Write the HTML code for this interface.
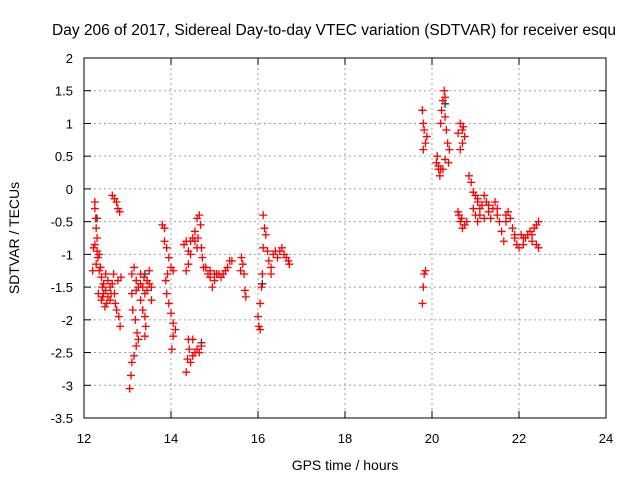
<!DOCTYPE html>
<html><head><meta charset="utf-8"><style>
body{margin:0;background:#fff;}
svg{display:block;font-family:"Liberation Sans",sans-serif;}
</style></head><body>
<svg id="chart" width="640" height="480">
<text x="52" y="35" font-size="15.5" fill="#000">Day 206 of 2017, Sidereal Day-to-day VTEC variation (SDTVAR) for receiver esqu</text>
<text x="345" y="470" font-size="14" text-anchor="middle">GPS time / hours</text>
<text transform="translate(19,238) rotate(-90)" font-size="14" text-anchor="middle">SDTVAR / TECUs</text>
<g id="grid"></g><g id="ticks"></g><g id="marks"></g>
<rect x="84" y="58" width="522" height="360" fill="none" stroke="#000"/>
</svg>
<script>
const xTicks=[12,14,16,18,20,22,24];
const yTicks=[2,1.5,1,0.5,0,-0.5,-1,-1.5,-2,-2.5,-3,-3.5];
const xTickLabels=["12","14","16","18","20","22","24"];
const yTickLabels=["2","1.5","1","0.5","0","-0.5","-1","-1.5","-2","-2.5","-3","-3.5"];
const hours=[12.25,12.25,12.27,12.28,12.3,12.25,12.3,12.32,12.28,12.35,12.38,12.4,12.42,12.45,12.4,12.48,12.5,12.55,12.6,12.65,12.7,12.72,12.75,12.8,12.83,12.6,12.55,12.5,12.35,12.45,12.52,12.68,12.78,12.85,12.2,12.22,12.33,12.43,12.62,
12.65,12.7,12.75,12.78,12.82,
13.1,13.15,13.2,13.1,13.12,13.18,13.22,13.2,13.15,13.1,13.08,13.05,13.25,13.3,13.35,13.4,13.45,13.5,13.3,13.35,13.4,13.42,13.4,13.55,13.55,13.25,13.2,13.3,13.45,13.5,13.38,
13.8,13.85,13.85,13.9,13.95,14.0,14.05,13.88,13.9,13.95,14.0,14.05,14.05,14.02,14.1,13.92,
14.3,14.35,14.4,14.45,14.4,14.35,14.5,14.55,14.6,14.65,14.68,14.62,14.7,14.72,14.75,14.6,14.45,14.55,
14.4,14.42,14.38,14.35,14.45,14.5,14.55,14.6,14.65,14.7,14.5,
14.8,14.85,14.9,14.95,15.0,15.05,15.1,15.15,15.2,15.25,15.3,15.35,15.4,14.9,15.0,
15.62,15.65,15.6,15.68,15.7,15.72,
16.0,16.02,16.05,16.05,16.08,16.1,16.12,16.15,16.12,16.18,16.22,16.25,16.3,16.3,16.35,16.4,16.45,16.5,16.55,16.6,16.65,16.7,16.72,
19.78,19.8,19.82,19.85,19.78,19.8,19.82,19.85,19.8,19.88,
20.1,20.12,20.15,20.18,20.2,20.2,20.22,20.25,20.28,20.3,20.3,20.33,20.36,20.4,20.38,20.25,20.3,20.15,
20.6,20.65,20.7,20.75,20.7,20.65,20.62,20.65,20.7,20.75,20.6,20.8,20.68,20.72,
20.85,20.9,20.95,21.0,21.05,20.95,21.0,21.05,21.1,21.15,21.2,21.25,21.3,21.35,21.4,21.45,21.5,21.55,21.6,21.65,21.7,21.75,21.8,21.85,21.9,21.95,22.0,22.05,22.1,22.15,22.2,22.25,22.3,22.35,22.4,22.45,22.4,22.45,21.1,21.3,21.5,21.7,21.9,22.1,22.3,21.05,21.2];
const vtec=[-0.2,-0.3,-0.45,-0.6,-0.75,-0.85,-0.95,-1.05,-1.15,-1.0,-1.2,-1.35,-1.5,-1.6,-1.7,-1.8,-1.55,-1.65,-1.5,-1.45,-1.6,-1.75,-1.85,-1.95,-2.1,-1.7,-1.4,-1.3,-1.25,-1.45,-1.75,-1.3,-1.4,-1.35,-1.25,-0.9,-1.6,-1.65,-1.6,
-0.1,-0.15,-0.2,-0.3,-0.35,
-1.3,-1.2,-1.4,-1.6,-1.85,-2.0,-2.2,-2.4,-2.55,-2.65,-2.85,-3.05,-1.5,-1.3,-1.5,-1.6,-1.4,-1.25,-1.7,-1.85,-1.95,-2.1,-2.25,-1.5,-1.7,-2.3,-1.55,-1.45,-1.55,-1.45,-1.35,
-0.55,-0.6,-0.8,-0.9,-1.05,-1.2,-1.25,-1.4,-1.6,-1.75,-1.9,-2.05,-2.25,-2.45,-2.15,-1.3,
-0.85,-0.8,-0.95,-1.0,-1.15,-1.25,-0.75,-0.65,-0.45,-0.4,-0.55,-0.75,-0.9,-1.05,-1.2,-0.9,-0.8,-0.8,
-2.3,-2.45,-2.6,-2.8,-2.65,-2.55,-2.5,-2.45,-2.5,-2.4,-2.3,
-1.2,-1.3,-1.35,-1.5,-1.4,-1.3,-1.3,-1.35,-1.3,-1.25,-1.2,-1.1,-1.1,-1.25,-1.3,
-1.05,-1.15,-1.25,-1.3,-1.55,-1.65,
-1.95,-2.1,-2.15,-1.75,-1.5,-1.3,-0.9,-0.6,-0.4,-0.7,-0.95,-1.1,-1.3,-1.2,-1.0,-0.95,-1.05,-0.95,-0.9,-1.0,-1.05,-1.1,-1.15,
-1.75,-1.5,-1.3,-1.25,1.2,1.0,0.9,0.7,0.6,0.8,
0.4,0.5,0.3,0.2,0.3,1.0,1.2,1.35,1.5,1.4,1.1,0.9,0.7,0.6,0.4,0.3,0.45,0.35,
0.85,1.0,0.9,0.8,0.7,0.6,-0.4,-0.5,-0.6,-0.55,-0.35,-0.5,-0.45,0.95,
0.2,0.1,-0.05,-0.1,-0.15,-0.3,-0.4,-0.5,-0.4,-0.25,-0.1,-0.2,-0.35,-0.45,-0.3,-0.2,-0.4,-0.5,-0.65,-0.8,-0.5,-0.35,-0.45,-0.6,-0.75,-0.85,-0.9,-0.7,-0.85,-0.75,-0.7,-0.65,-0.8,-0.6,-0.55,-0.5,-0.85,-0.9,-0.3,-0.25,-0.3,-0.4,-0.7,-0.75,-0.7,-0.2,-0.45];
const grayHours=[12.3,19.78,16.1,14.7,13.4,20.3];
const grayVtec=[-0.45,1.2,-1.45,-2.35,-1.3,1.3];
const NS="http://www.w3.org/2000/svg";
function X(h){return 84+(h-12)/12*522;}
function Y(v){return 58+(2-v)/5.5*360;}
function el(t,a,p){const e=document.createElementNS(NS,t);for(const k in a)e.setAttribute(k,a[k]);p.appendChild(e);return e;}
const grid=document.getElementById('grid'),ticks=document.getElementById('ticks'),marks=document.getElementById('marks');
xTicks.forEach((t,i)=>{const x=X(t);
 if(i>0&&i<xTicks.length-1){const g=el('line',{x1:x,x2:x,y1:58,y2:418,stroke:'#a0a0a0','stroke-dasharray':'2,3'},grid);
 
 }
 el('line',{x1:x,x2:x,y1:418,y2:411,stroke:'#000'},ticks);el('line',{x1:x,x2:x,y1:58,y2:65,stroke:'#000'},ticks);
 const l=el('text',{x:x,y:443,'font-size':13,'text-anchor':'middle'},ticks);l.textContent=xTickLabels[i];
 
 });
yTicks.forEach((t,i)=>{const y=Y(t);
 if(i>0&&i<yTicks.length-1){const g=el('line',{x1:84,x2:606,y1:y,y2:y,stroke:'#a0a0a0','stroke-dasharray':'2,3'},grid);
 
 }
 el('line',{x1:84,x2:91,y1:y,y2:y,stroke:'#000'},ticks);el('line',{x1:606,x2:599,y1:y,y2:y,stroke:'#000'},ticks);
 const l=el('text',{x:73,y:y+5,'font-size':13,'text-anchor':'end'},ticks);l.textContent=yTickLabels[i];
 
 });
function plus(h,v,c,name){const x=X(h),y=Y(v);
 const p=el('path',{d:`M${x-4},${y}H${x+4}M${x},${y-4}V${y+4}`,stroke:c,'stroke-width':1.3,fill:'none'},marks);
 
 }
grayHours.forEach((h,i)=>plus(h,grayVtec[i],'#333','reference-point'));
hours.forEach((h,i)=>plus(h,vtec[i],'#ff0000','sdtvar-point'));
</script>
</body></html>
